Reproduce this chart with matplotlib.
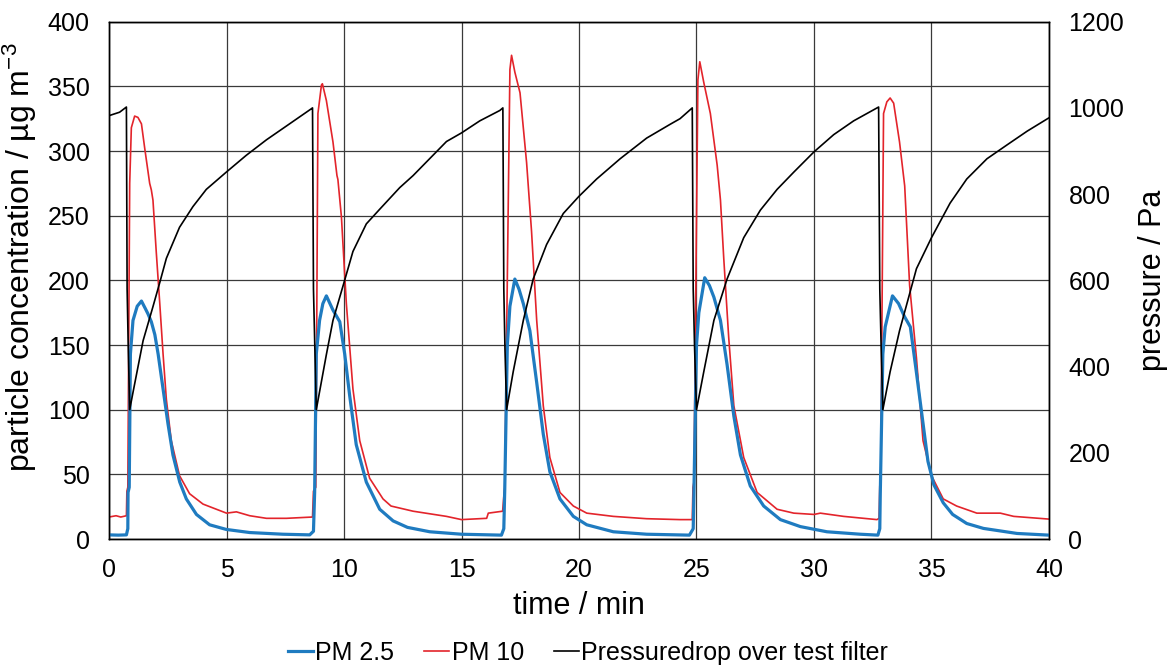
import matplotlib as mpl
mpl.use('Agg')
import matplotlib.pyplot as plt
import matplotlib.ticker as ticker

# time / min and values
pm25_t = [0.0, 0.4, 0.74, 0.80, 0.81, 0.86, 0.91, 1.02, 1.2, 1.38, 1.55, 1.66, 1.80, 1.95, 2.09,
          2.30, 2.51, 2.72, 3.01, 3.29, 3.72, 4.28, 4.99, 5.99, 7.4, 8.54,
          8.70, 8.75, 8.82, 8.96, 9.1, 9.25, 9.53, 9.82, 10.03, 10.24, 10.52, 10.95, 11.52,
          12.09, 12.7, 13.65, 15.0, 16.7,
          16.80, 16.84, 16.95, 17.06, 17.27, 17.45, 17.63, 17.91, 18.2, 18.48, 18.76, 19.19,
          19.76, 20.33, 21.46, 22.88, 24.7,
          24.86, 24.89, 25.0, 25.1, 25.35, 25.55, 25.74, 26.02, 26.3, 26.59, 26.87, 27.29,
          27.86, 28.57, 29.42, 30.55, 31.97, 32.72,
          32.80, 32.82, 32.93, 33.03, 33.34, 33.6, 33.85, 34.1, 34.35, 34.6, 34.85, 35.1,
          35.5, 35.9, 36.5, 37.21, 38.64, 40.0]
pm25 = [3.2, 3.0, 3.2, 8, 36, 40, 143, 169, 180, 184, 178, 174, 168, 158, 143,
        116, 89, 65, 44, 31, 19, 11, 7.4, 5, 3.7, 3.2,
        6, 36, 143, 169, 182, 188, 177, 168, 143, 111, 73, 44, 23,
        14, 9, 5.6, 3.7, 3.0,
        8, 38, 150, 180, 201, 193, 182, 161, 121, 81, 52, 31,
        17.5, 11, 5.6, 3.7, 3.0,
        8, 36, 150, 175, 202, 196, 187, 169, 135, 95, 65, 41,
        25.5, 15, 9.6, 5.6, 3.7, 3.0,
        8, 34, 143, 164, 188, 182, 172, 164, 130, 95, 60, 42,
        28, 19, 12, 8.2, 4.3, 3.0]

pm10_t = [0.0, 0.3, 0.5, 0.74, 0.76, 0.80, 0.88, 0.95, 1.09, 1.23, 1.38, 1.52, 1.73, 1.80,
          1.87, 2.01, 2.16, 2.30, 2.44, 2.65, 3.0, 3.43, 4.0, 4.57, 5.0, 5.42, 5.99, 6.70,
          7.55, 8.66,
          8.70, 8.80, 8.89, 9.04, 9.08, 9.25, 9.53, 9.70, 9.74, 9.89, 10.10, 10.38, 10.67,
          11.09, 11.66, 12.0, 12.94, 14.36, 15.0, 16.07, 16.14, 16.75,
          16.80, 16.84, 17.06, 17.13, 17.27, 17.49, 17.77, 17.98, 18.2, 18.48, 18.76, 19.19,
          19.76, 20.33, 21.46, 22.88, 24.3, 24.82,
          24.85, 24.89, 25.06, 25.14, 25.31, 25.59, 25.88, 26.02, 26.16, 26.37, 26.59, 27.01,
          27.58, 28.43, 29.14, 30.0, 30.27, 31.26, 32.68, 32.77,
          32.80, 32.84, 32.96, 33.10, 33.24, 33.39, 33.64, 33.86, 34.07, 34.36, 34.64, 35.0,
          35.5, 36.07, 36.93, 37.93, 38.5, 40.0]
pm10 = [17, 18, 17, 18, 37, 40, 275, 318, 327, 326, 321, 302, 275, 270,
        262, 222, 182, 143, 108, 76, 49, 35, 27, 23, 20, 21, 18, 16,
        16, 17,
        37, 40, 329, 351, 352, 339, 307, 281, 278, 249, 182, 116, 76,
        47, 31, 25.5, 21.5, 17.5, 15, 16, 20, 21.5,
        33, 40, 363, 374, 361, 345, 291, 238, 169, 103, 63, 36,
        25.5, 20, 17.5, 15.7, 15, 15,
        40, 44, 355, 369, 353, 329, 289, 262, 217, 156, 103, 63,
        36, 23, 20, 19, 20, 17.5, 15, 16,
        41, 45, 329, 338, 341, 337, 307, 273, 196, 140, 76, 49,
        31, 25.5, 20, 20, 17.5, 15.4]

press_t = [0.0, 0.45, 0.74, 0.77, 0.82, 0.88, 1.02, 1.45, 1.87, 2.16, 2.44, 3.0, 3.57, 4.14,
           4.99, 5.84, 6.70, 7.55, 8.61, 8.66,
           8.70, 8.76, 8.82, 9.25, 9.53, 10.0, 10.38, 10.95, 11.52, 12.37, 12.94, 14.36, 15.0,
           15.78, 16.63, 16.76,
           16.80, 16.85, 16.92, 17.2, 17.63, 18.05, 18.62, 19.33, 20.0, 20.75, 21.75, 22.88,
           23.88, 24.3, 24.82,
           24.86, 24.92, 25.0, 25.31, 25.74, 26.3, 27.01, 27.72, 28.43, 29.14, 30.0, 30.84,
           31.69, 32.75,
           32.80, 32.86, 32.93, 33.24, 33.64, 34.24, 34.36, 35.0, 35.79, 36.5, 37.36, 38.21,
           39.07, 40.0]
press = [982, 990, 1002, 580, 440, 300, 340, 460, 539, 595, 651, 723, 771, 811,
         851, 890, 926, 958, 998, 1000,
         580, 440, 300, 428, 507, 595, 667, 731, 765, 815, 843, 922, 942,
         970, 994, 1000,
         580, 440, 300, 388, 507, 603, 683, 755, 795, 835, 882, 930,
         962, 975, 1000,
         580, 440, 300, 388, 507, 603, 699, 763, 811, 851, 898, 938,
         970, 1002,
         580, 440, 300, 388, 483, 603, 627, 699, 779, 835, 882, 914,
         946, 977]

plt.rcParams['font.family'] = ['Liberation Sans', 'DejaVu Sans']
plt.rcParams['mathtext.default'] = 'regular'

fig = plt.figure(figsize=(11.71, 6.69), dpi=100)
ax = fig.add_axes([0.0931, 0.1943, 0.8027, 0.7733])
ax2 = ax.twinx()

l1, = ax.plot(pm25_t, pm25, color='#1f7bc0', lw=2.3, label='PM 2.5', zorder=3)
l2, = ax.plot(pm10_t, pm10, color='#e3242b', lw=1.2, label='PM 10', zorder=2)
l3, = ax2.plot(press_t, press, color='black', lw=1.2, label='Pressuredrop over test filter')

ax.set_xlim(0, 40)
ax.set_ylim(0, 400)
ax2.set_ylim(0, 1200)
ax.xaxis.set_major_locator(ticker.MultipleLocator(5))
ax.yaxis.set_major_locator(ticker.MultipleLocator(50))
ax2.yaxis.set_major_locator(ticker.MultipleLocator(200))
ax.grid(True, color='#3a3a3a', lw=0.9)
ax.set_axisbelow(True)

for a in (ax, ax2):
    a.tick_params(length=0, labelsize=18, pad=14)
    for sp in a.spines.values():
        sp.set_color('black')
        sp.set_linewidth(1.0)

ax.set_xlabel('time / min', fontsize=22, labelpad=6)
ax.set_ylabel('particle concentration / µg m$^{-3}$', fontsize=23)
ax.yaxis.set_label_coords(-0.075, 0.545)
ax2.set_ylabel('pressure / Pa', fontsize=22, labelpad=10)

fig.legend(handles=[l1, l2, l3], loc='center', bbox_to_anchor=(0.502, 0.024), ncol=3,
           frameon=False, fontsize=18, handlelength=1.0, handletextpad=0.1,
           columnspacing=1.2)

fig.savefig('out.png', dpi=100)
plt.close(fig)
